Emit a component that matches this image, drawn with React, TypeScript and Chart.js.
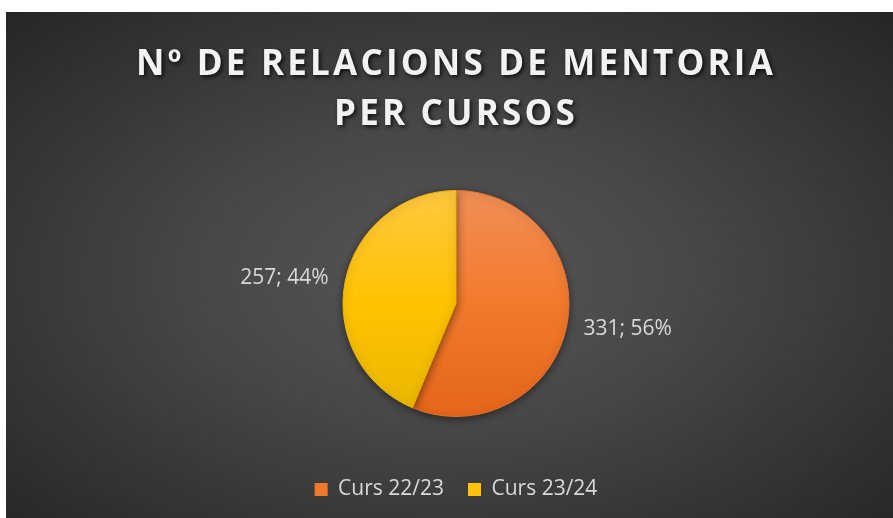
import React, { useEffect, useRef } from 'react';
import { Chart, registerables } from 'chart.js';

Chart.register(...registerables);

const TITLE_LINES = ['Nº DE RELACIONS DE MENTORIA', 'PER CURSOS'];
const CATEGORIES = ['Curs 22/23', 'Curs 23/24'];
const VALUES = [331, 257];

const GRADIENTS = [
  ['#F28E57', '#F27A2C', '#E4661A'],
  ['#FFC83F', '#FFC300', '#E9B700'],
];
const LEGEND_COLORS = ['#F07A2C', '#FFC20A'];
const BORDER_COLORS = ['#E4722E', '#EDB400'];

const TEXT_COLOR = '#D9D9D9';
const FONT = '"Open Sans", "DejaVu Sans", sans-serif';

export default function App() {
  const canvasRef = useRef<HTMLCanvasElement | null>(null);

  useEffect(() => {
    const canvas = canvasRef.current;
    if (!canvas) return;
    const total = VALUES.reduce((a, b) => a + b, 0);

    const titlePlugin = {
      id: 'customTitle',
      afterDraw(chart: any) {
        const ctx = chart.ctx as CanvasRenderingContext2D;
        ctx.save();
        ctx.font = `700 35px ${FONT}`;
        (ctx as any).letterSpacing = '3.2px';
        ctx.textAlign = 'center';
        ctx.textBaseline = 'alphabetic';
        ctx.fillStyle = '#F2F2F2';
        ctx.shadowColor = 'rgba(0,0,0,0.75)';
        ctx.shadowBlur = 4;
        ctx.shadowOffsetX = 2;
        ctx.shadowOffsetY = 2;
        const cx = 450;
        TITLE_LINES.forEach((line, i) => {
          ctx.fillText(line, cx, 63 + i * 50);
        });
        ctx.restore();
      },
    };

    const pieDecor = {
      id: 'pieDecor',
      beforeDatasetsDraw(chart: any) {
        const ctx = chart.ctx as CanvasRenderingContext2D;
        ctx.save();
        ctx.shadowColor = 'rgba(0,0,0,0.45)';
        ctx.shadowBlur = 8;
        ctx.shadowOffsetY = 2;
      },
      afterDatasetsDraw(chart: any) {
        const ctx = chart.ctx as CanvasRenderingContext2D;
        ctx.restore();
        ctx.save();
        ctx.font = `400 21px ${FONT}`;
        ctx.fillStyle = TEXT_COLOR;
        ctx.textBaseline = 'middle';
        const meta = chart.getDatasetMeta(0);
        meta.data.forEach((arc: any, i: number) => {
          const { x, y, startAngle, endAngle, outerRadius } = arc.getProps(
            ['x', 'y', 'startAngle', 'endAngle', 'outerRadius'],
            true
          );
          const mid = (startAngle + endAngle) / 2;
          const r = outerRadius + 17;
          const px = x + Math.cos(mid) * r;
          const py = y + Math.sin(mid) * r;
          ctx.textAlign = Math.cos(mid) >= 0 ? 'left' : 'right';
          const pct = Math.round((VALUES[i] / total) * 100);
          ctx.fillText(`${VALUES[i]}; ${pct}%`, px, py);
        });
        ctx.restore();
      },
    };

    const chart = new Chart(canvas, {
      type: 'pie',
      data: {
        labels: CATEGORIES,
        datasets: [
          {
            data: VALUES,
            radius: 113,
            backgroundColor: (c: any) => {
              const ch = c.chart;
              const area = ch.chartArea;
              const stops = GRADIENTS[c.dataIndex % GRADIENTS.length];
              if (!area) return stops[1];
              const cy = (area.top + area.bottom) / 2;
              const g = ch.ctx.createLinearGradient(0, cy - 113, 0, cy + 113);
              g.addColorStop(0, stops[0]);
              g.addColorStop(0.5, stops[1]);
              g.addColorStop(1, stops[2]);
              return g;
            },
            borderColor: BORDER_COLORS,
            borderWidth: 1,
          } as any,
        ],
      },
      options: {
        animation: false,
        responsive: true,
        maintainAspectRatio: false,
        layout: { padding: { top: 140, bottom: 8, left: 13, right: 0 } },
        plugins: {
          title: { display: false },
          tooltip: { enabled: false },
          legend: {
            display: true,
            position: 'bottom',
            labels: {
              color: TEXT_COLOR,
              font: { family: FONT, size: 21 },
              boxWidth: 13,
              boxHeight: 13,
              padding: 24,
              generateLabels: (ch: any) =>
                CATEGORIES.map((label, i) => ({
                  text: label,
                  fillStyle: LEGEND_COLORS[i],
                  strokeStyle: LEGEND_COLORS[i],
                  lineWidth: 0,
                  hidden: !ch.getDataVisibility(i),
                  index: i,
                  fontColor: TEXT_COLOR,
                })),
            },
          },
        },
      },
      plugins: [titlePlugin, pieDecor],
    });

    return () => chart.destroy();
  }, []);

  return (
    <div
      style={{
        position: 'absolute',
        left: 6,
        top: 12,
        width: 887,
        height: 506,
        background:
          'radial-gradient(ellipse farthest-corner at 50% 52%, #575757 0%, #474747 40%, #262626 100%)',
      }}
    >
      <canvas ref={canvasRef} style={{ width: '100%', height: '100%' }} />
    </div>
  );
}
